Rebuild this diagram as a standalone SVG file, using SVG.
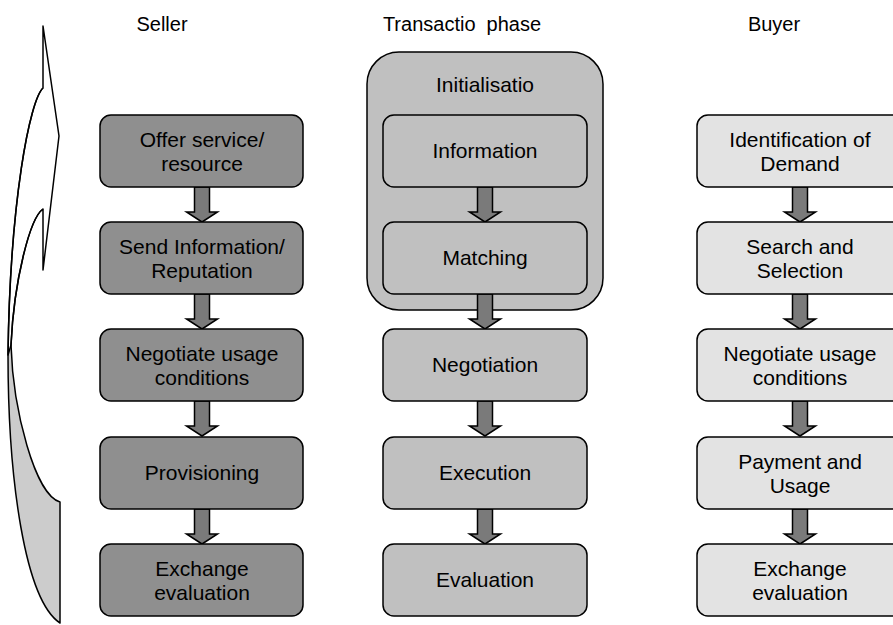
<svg xmlns="http://www.w3.org/2000/svg" width="893" height="625" viewBox="0 0 893 625">
<style>
text{font-family:"Liberation Sans",Arial,sans-serif;font-size:21px;fill:#000;text-anchor:middle}
.ttl{font-size:20px;white-space:pre}
.box{stroke:#000;stroke-width:1.5}
.s{fill:#8f8f8f}
.m{fill:#c0c0c0}
.b{fill:#e3e3e3}
.arr{fill:#7a7a7a;stroke:#000;stroke-width:1.5;stroke-linejoin:miter}
</style>
<defs>
<path id="dn" d="M-7.5,0 L7.5,0 L7.5,25 L15.5,25 L0,35 L-15.5,25 L-7.5,25 Z"/>
</defs>
<rect width="893" height="625" fill="#fff"/>

<g id="cycle-arrow" stroke="#000" stroke-width="1.5" stroke-linejoin="round">
<path fill="#cccccc" stroke="none" d="M11,345 C13,410 35,495 60,502 L60,623 C25,600 8,480 8,355 Z"/>
<path fill="#fff" d="M43,26 L59,136 L43,270 L43,209 C30,218 14,280 11,345 L8,355 C10,200 30,100 43,88 Z"/>
<path fill="none" d="M43,88 C30,100 10,200 8,355 C8,480 25,600 60,623 L60,502 C35,495 13,410 11,345 C14,280 30,218 43,209"/>
</g>

<g id="titles">
<text class="ttl" x="162" y="31">Seller</text>
<text class="ttl" x="462" y="31">Transactio  phase</text>
<text class="ttl" x="774" y="31">Buyer</text>
</g>

<g id="init-group">
<rect class="box m" x="367" y="52" width="236" height="258" rx="32"/>
<text x="485" y="92">Initialisatio</text>
</g>

<g id="connectors">
<use href="#dn" class="arr" x="202" y="187"/>
<use href="#dn" class="arr" x="202" y="294"/>
<use href="#dn" class="arr" x="202" y="401"/>
<use href="#dn" class="arr" x="202" y="509"/>
<use href="#dn" class="arr" x="485" y="187"/>
<use href="#dn" class="arr" x="485" y="294"/>
<use href="#dn" class="arr" x="485" y="401"/>
<use href="#dn" class="arr" x="485" y="509"/>
<use href="#dn" class="arr" x="800" y="187"/>
<use href="#dn" class="arr" x="800" y="294"/>
<use href="#dn" class="arr" x="800" y="401"/>
<use href="#dn" class="arr" x="800" y="509"/>
</g>

<g id="seller-1"><rect class="box s" x="100" y="115" width="203" height="72" rx="11"/><text x="202" y="147">Offer service/</text><text x="202" y="171">resource</text></g>
<g id="seller-2"><rect class="box s" x="100" y="222" width="203" height="72" rx="11"/><text x="202" y="254">Send Information/</text><text x="202" y="278">Reputation</text></g>
<g id="seller-3"><rect class="box s" x="100" y="329" width="203" height="72" rx="11"/><text x="202" y="361">Negotiate usage</text><text x="202" y="385">conditions</text></g>
<g id="seller-4"><rect class="box s" x="100" y="437" width="203" height="72" rx="11"/><text x="202" y="480">Provisioning</text></g>
<g id="seller-5"><rect class="box s" x="100" y="544" width="203" height="72" rx="11"/><text x="202" y="576">Exchange</text><text x="202" y="600">evaluation</text></g>

<g id="phase-information"><rect class="box m" x="383" y="115" width="204" height="72" rx="11"/><text x="485" y="158">Information</text></g>
<g id="phase-matching"><rect class="box m" x="383" y="222" width="204" height="72" rx="11"/><text x="485" y="265">Matching</text></g>
<g id="phase-negotiation"><rect class="box m" x="383" y="329" width="204" height="72" rx="11"/><text x="485" y="372">Negotiation</text></g>
<g id="phase-execution"><rect class="box m" x="383" y="437" width="204" height="72" rx="11"/><text x="485" y="480">Execution</text></g>
<g id="phase-evaluation"><rect class="box m" x="383" y="544" width="204" height="72" rx="11"/><text x="485" y="587">Evaluation</text></g>

<g id="buyer-1"><rect class="box b" x="697" y="115" width="206" height="72" rx="11"/><text x="800" y="147">Identification of</text><text x="800" y="171">Demand</text></g>
<g id="buyer-2"><rect class="box b" x="697" y="222" width="206" height="72" rx="11"/><text x="800" y="254">Search and</text><text x="800" y="278">Selection</text></g>
<g id="buyer-3"><rect class="box b" x="697" y="329" width="206" height="72" rx="11"/><text x="800" y="361">Negotiate usage</text><text x="800" y="385">conditions</text></g>
<g id="buyer-4"><rect class="box b" x="697" y="437" width="206" height="72" rx="11"/><text x="800" y="469">Payment and</text><text x="800" y="493">Usage</text></g>
<g id="buyer-5"><rect class="box b" x="697" y="544" width="206" height="72" rx="11"/><text x="800" y="576">Exchange</text><text x="800" y="600">evaluation</text></g>
</svg>
